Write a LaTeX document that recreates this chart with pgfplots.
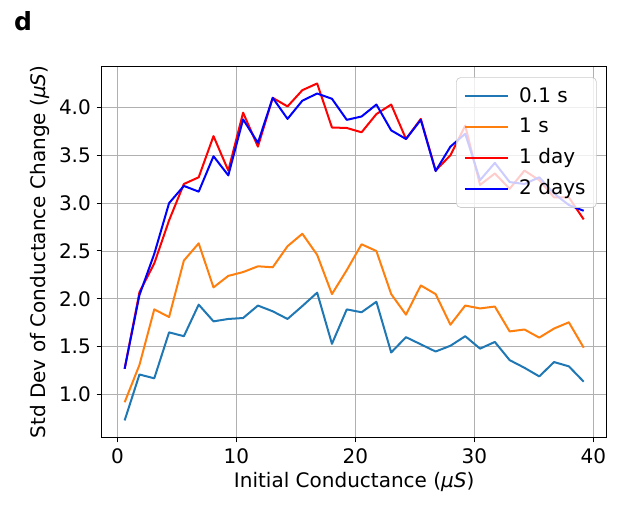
\documentclass[border=0pt]{standalone}
\usepackage{fontspec}
\setmainfont{DejaVu Sans}
\usepackage{pgfplots}
\usepackage{pgfplotstable}
\pgfplotsset{compat=1.18}

\definecolor{mplblue}{HTML}{1F77B4}
\definecolor{mplorange}{HTML}{FF7F0E}
\definecolor{mplgrid}{HTML}{B0B0B0}
\definecolor{legedge}{HTML}{CCCCCC}

% std dev of conductance change per initial-conductance bin
\pgfplotstableread{
x       s01    s1     dayone daytwo
0.600   0.730  0.920  1.270  1.270
1.845   1.210  1.310  2.070  2.040
3.090   1.170  1.890  2.370  2.470
4.335   1.650  1.810  2.820  3.000
5.580   1.610  2.400  3.200  3.180
6.825   1.940  2.580  3.270  3.120
8.070   1.765  2.120  3.700  3.490
9.315   1.790  2.240  3.340  3.290
10.560  1.800  2.280  3.945  3.875
11.805  1.930  2.340  3.590  3.630
13.050  1.870  2.330  4.100  4.100
14.295  1.790  2.550  4.010  3.880
15.540  1.925  2.680  4.180  4.070
16.785  2.065  2.460  4.250  4.145
18.030  1.530  2.050  3.790  4.090
19.275  1.890  2.300  3.785  3.870
20.520  1.860  2.570  3.740  3.905
21.765  1.970  2.500  3.930  4.030
23.010  1.440  2.050  4.030  3.760
24.255  1.600  1.835  3.670  3.670
25.500  1.525  2.140  3.880  3.870
26.745  1.450  2.050  3.340  3.335
27.990  1.510  1.730  3.500  3.590
29.235  1.610  1.930  3.810  3.725
30.480  1.480  1.900  3.190  3.240
31.725  1.550  1.920  3.310  3.420
32.970  1.360  1.660  3.150  3.220
34.215  1.280  1.680  3.340  3.200
35.460  1.190  1.595  3.240  3.270
36.705  1.340  1.690  3.060  3.100
37.950  1.295  1.755  3.060  2.980
39.195  1.135  1.490  2.830  2.920
}\stdtable

\begin{document}
\begin{tikzpicture}
\useasboundingbox (-61.02pt,-41.82pt) rectangle (311.58pt,262.38pt);
\begin{axis}[
    at={(0,0)}, anchor=south west,
    scale only axis,
    width=303pt, height=222.4pt,
    xmin=-1.33, xmax=41.13,
    ymin=0.554, ymax=4.426,
    xtick={0,10,20,30,40},
    ytick={1.0,1.5,2.0,2.5,3.0,3.5,4.0},
    yticklabel style={/pgf/number format/.cd,fixed,fixed zerofill,precision=1},
    /pgf/number format/assume math mode=true,
    tick label style={font=\fontsize{12}{14}\selectfont},
    tick pos=left,
    tick align=outside,
    major tick length=3pt,
    tick style={black, line width=0.6pt},
    axis line style={black, line width=0.6pt},
    grid=major,
    major grid style={color=mplgrid, line width=0.5pt},
    xlabel={Initial Conductance (\textit{μS})},
    ylabel={Std Dev of Conductance Change (\textit{μS})},
    every axis x label/.style={at={(axis description cs:0.5,-0.1197)}, anchor=center,
        font=\fontsize{12}{14}\selectfont},
    every axis y label/.style={at={(axis description cs:-0.1221,0.5)}, anchor=center,
        rotate=90, font=\fontsize{12}{14}\selectfont},
    legend style={at={(1,1)}, anchor=north east, xshift=-6pt, yshift=-6.4pt,
        font=\fontsize{12}{14}\selectfont, fill=white, fill opacity=0.8, text opacity=1,
        draw=legedge, rounded corners=2.5pt, row sep=4pt,
        inner xsep=4.5pt, inner ysep=4pt,
        /tikz/every odd column/.append style={column sep=4pt}},
    legend cell align=left,
    legend image code/.code={\draw[#1] (0pt,0pt) -- (26pt,0pt);},
    every axis plot/.append style={line width=1.2pt, line join=round},
]
\addplot[color=mplblue] table[x=x, y=s01] {\stdtable};
\addlegendentry{0.1 s}
\addplot[color=mplorange] table[x=x, y=s1] {\stdtable};
\addlegendentry{1 s}
\addplot[color=red] table[x=x, y=dayone] {\stdtable};
\addlegendentry{1 day}
\addplot[color=blue] table[x=x, y=daytwo] {\stdtable};
\addlegendentry{2 days}
\end{axis}
\node[font=\bfseries\fontsize{15}{17}\selectfont] at (-47.2pt,249.8pt) {d};
\end{tikzpicture}
\end{document}
